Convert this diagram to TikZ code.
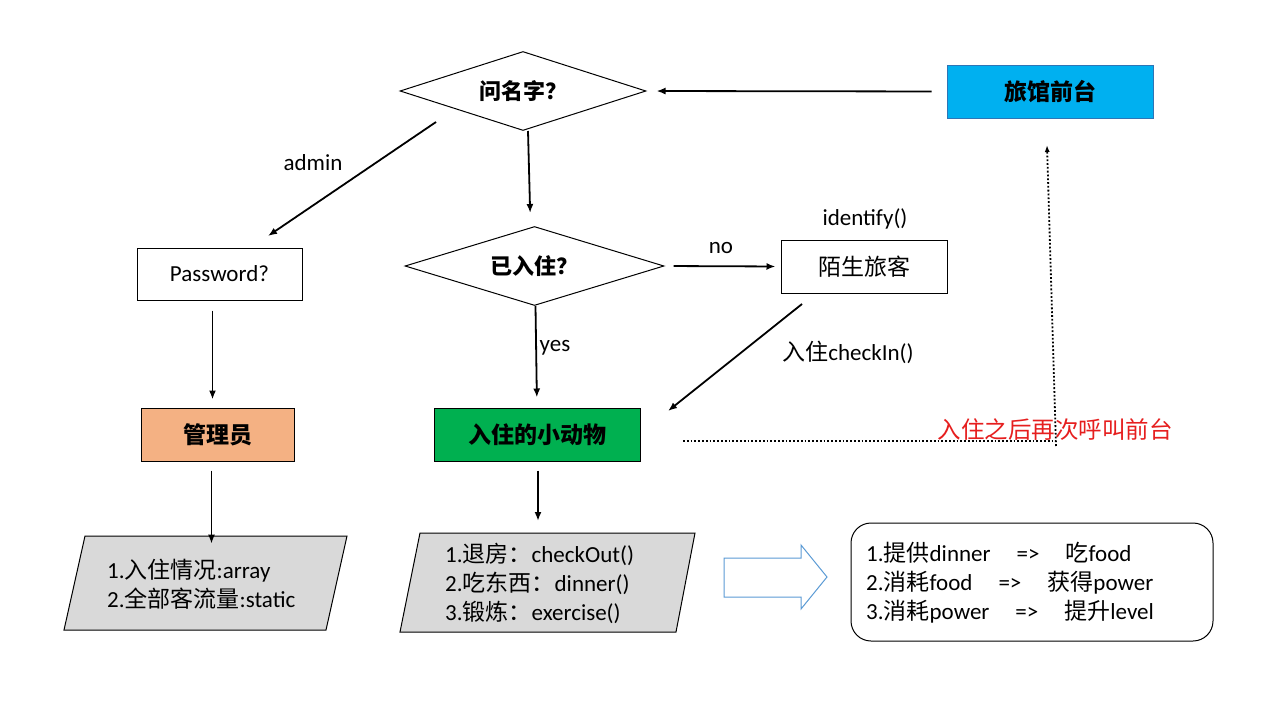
\documentclass[tikz,border=0pt]{standalone}
\usepackage{fontspec}
\setmainfont{Carlito}
\newfontfamily\cjk{Noto Sans CJK SC}
\usetikzlibrary{shapes.geometric,arrows.meta}
\definecolor{fdblue}{RGB}{0,176,240}
\definecolor{fdedge}{RGB}{46,117,182}
\definecolor{salmon}{RGB}{244,177,131}
\definecolor{petgreen}{RGB}{0,176,80}
\definecolor{lgray}{RGB}{217,217,217}
\definecolor{arrblue}{RGB}{91,155,213}
\definecolor{redtxt}{RGB}{230,30,30}
\begin{document}
\begin{tikzpicture}[x=1pt,y=-1pt,
  arr/.style={line width=1.8pt,-{Latex[length=9pt,width=7pt]}},
  dotarr/.style={dotted,line width=1.8pt},
  lat/.style={font=\fontsize{23}{27}\selectfont},
  box/.style={draw,line width=1pt,inner sep=0pt,font=\fontsize{23}{27}\selectfont},
  dia/.style={draw,diamond,aspect=3.1,line width=1pt,inner sep=0pt,font=\fontsize{22}{26}\selectfont},
  plist/.style={anchor=west,align=left,inner sep=0pt,font=\fontsize{23}{29}\selectfont}]
\useasboundingbox (0,0) rectangle (1280,720);
\fill[white] (0,0) rectangle (1280,720);
% nodes
\node[dia,minimum width=246pt,minimum height=79pt] (q1) at (523,91) {\cjk\bfseries 问名字？};
\node[box,draw=fdedge,fill=fdblue,minimum width=206pt,minimum height=53pt] (fd) at (1050,91.5) {\cjk\bfseries 旅馆前台};
\node[box,minimum width=165pt,minimum height=52pt] (pw) at (219.5,274) {Password?};
\node[dia,minimum width=259pt,minimum height=79pt] (q2) at (534.5,266) {\cjk\bfseries 已入住？};
\node[box,minimum width=166pt,minimum height=53pt] (st) at (864,266.5) {\cjk 陌生旅客};
\node[box,fill=salmon,minimum width=153pt,minimum height=53pt] (adm) at (217.5,434.5) {\cjk\bfseries 管理员};
\node[box,fill=petgreen,minimum width=206pt,minimum height=53pt] (pet) at (537,434.5) {\cjk\bfseries 入住的小动物};
% parallelograms
\filldraw[fill=lgray,line width=1pt] (85,536) -- (347,536) -- (326,630) -- (64,630) -- cycle;
\node[plist] (p1) at (107,584) {1.{\cjk 入住情况}:array\\2.{\cjk 全部客流量}:static};
\filldraw[fill=lgray,line width=1pt] (420,533) -- (695,533) -- (676,632) -- (400,632) -- cycle;
\node[plist] (p2) at (445,583) {1.{\cjk 退房：}checkOut()\\2.{\cjk 吃东西：}dinner()\\3.{\cjk 锻炼：}exercise()};
% block arrow
\draw[arrblue,fill=white,line width=1pt] (724,558) -- (801,558) -- (801,545) -- (827,577) -- (801,609) -- (801,597) -- (724,597) -- cycle;
% rounded box
\draw[line width=1pt,rounded corners=20pt] (851,523) rectangle (1213,641);
\node[plist] (rr) at (866,583) {1.{\cjk 提供}dinner\hspace{26pt}=>\hspace{26pt}{\cjk 吃}food\\2.{\cjk 消耗}food\hspace{26pt}=>\hspace{26pt}{\cjk 获得}power\\3.{\cjk 消耗}power\hspace{26pt}=>\hspace{26pt}{\cjk 提升}level};
% labels
\node[lat] (ladmin) at (313,163) {admin};
\node[lat] (lno) at (721,248) {no};
\node[lat] (lid) at (865,219) {identify()};
\node[lat] (lyes) at (555,348) {yes};
\node[lat] (lci) at (848,352) {{\cjk 入住}checkIn()};
\node[font=\fontsize{23.5}{27}\selectfont,text=redtxt] (lred) at (1055,430) {\cjk 入住之后再次呼叫前台};
% connector coordinates
\coordinate (a1) at (436,122);
\coordinate (a2) at (268,236);
\coordinate (c1) at (802,304);
\coordinate (c2) at (668,411);
\coordinate (d1) at (683,441);
\coordinate (d2) at (1056,441);
\coordinate (d3) at (1056,446);
\coordinate (d4) at (1047,145);
% connectors
\draw[arr,shorten <=15pt,shorten >=10pt] (fd.west) -- (q1.east);
\draw[arr] (a1) -- (a2);
\draw[arr,shorten >=13pt] ([xshift=5pt]q1.south) -- ([xshift=-4pt]q2.north);
\draw[arr,shorten <=9pt,shorten >=5pt] (q2.east) -- (st.west);
\draw[arr] (c1) -- (c2);
\draw[arr,shorten >=10pt] ([xshift=1pt]q2.south) -- (pet.north);
\draw[arr,shorten <=10pt,shorten >=8pt] ([xshift=-7pt]pw.south) -- ([xshift=-5pt]adm.north);
\draw[arr,shorten <=9pt,shorten >=15pt] ([xshift=-6pt]adm.south) -- ([xshift=-6pt]adm.south |- p1.north);
\draw[arr,shorten <=9pt] ([xshift=1pt]pet.south) -- (538,521);
\draw[dotarr] (d1) -- (d2);
\draw[dotarr,-{Latex[length=7pt,width=5pt]}] (d3) -- (d4);
\end{tikzpicture}
\end{document}
